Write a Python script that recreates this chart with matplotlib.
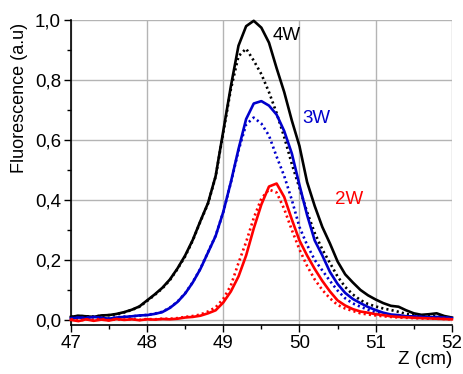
import numpy as np
import matplotlib
matplotlib.use("Agg")
import matplotlib.pyplot as plt
from matplotlib.ticker import MultipleLocator, FuncFormatter

plt.rcParams['font.family'] = ['Liberation Sans', 'DejaVu Sans']

# z positions (cm), 0.1 cm step from 47 to 52
z = [47.0, 47.1, 47.2, 47.3, 47.4, 47.5, 47.6, 47.7, 47.8, 47.9,
     48.0, 48.1, 48.2, 48.3, 48.4, 48.5, 48.6, 48.7, 48.8, 48.9,
     49.0, 49.1, 49.2, 49.3, 49.4, 49.5, 49.6, 49.7, 49.8, 49.9,
     50.0, 50.1, 50.2, 50.3, 50.4, 50.5, 50.6, 50.7, 50.8, 50.9,
     51.0, 51.1, 51.2, 51.3, 51.4, 51.5, 51.6, 51.7, 51.8, 51.9, 52.0]

w4_solid = [0.010, 0.014, 0.012, 0.010, 0.015, 0.016, 0.020, 0.026, 0.034, 0.045,
            0.065, 0.085, 0.107, 0.135, 0.172, 0.215, 0.267, 0.330, 0.390, 0.480,
            0.630, 0.780, 0.915, 0.980, 0.998, 0.975, 0.925, 0.840, 0.760, 0.665,
            0.580, 0.460, 0.380, 0.310, 0.255, 0.195, 0.152, 0.125, 0.100, 0.082,
            0.068, 0.056, 0.047, 0.044, 0.032, 0.022, 0.017, 0.019, 0.022, 0.013, 0.008]
w4_dot = [0.010, 0.013, 0.012, 0.011, 0.014, 0.016, 0.019, 0.025, 0.033, 0.044,
          0.063, 0.083, 0.105, 0.133, 0.170, 0.212, 0.265, 0.328, 0.388, 0.478,
          0.625, 0.770, 0.880, 0.905, 0.865, 0.820, 0.760, 0.690, 0.610, 0.520,
          0.440, 0.360, 0.290, 0.235, 0.190, 0.145, 0.110, 0.085, 0.066, 0.053,
          0.045, 0.038, 0.033, 0.027, 0.020, 0.016, 0.014, 0.012, 0.012, 0.010, 0.008]

w3_solid = [0.005, 0.008, 0.006, 0.010, 0.007, 0.004, 0.008, 0.010, 0.012, 0.015,
            0.016, 0.020, 0.026, 0.040, 0.060, 0.088, 0.125, 0.170, 0.225, 0.280,
            0.360, 0.460, 0.570, 0.670, 0.722, 0.730, 0.715, 0.685, 0.630, 0.555,
            0.450, 0.350, 0.265, 0.215, 0.160, 0.120, 0.090, 0.070, 0.056, 0.043,
            0.033, 0.024, 0.018, 0.016, 0.012, 0.012, 0.010, 0.009, 0.010, 0.008, 0.006]
w3_dot = [0.006, 0.007, 0.008, 0.009, 0.006, 0.005, 0.009, 0.011, 0.012, 0.014,
          0.017, 0.021, 0.027, 0.041, 0.061, 0.089, 0.126, 0.171, 0.226, 0.281,
          0.360, 0.458, 0.565, 0.652, 0.675, 0.655, 0.615, 0.545, 0.480, 0.400,
          0.310, 0.250, 0.200, 0.165, 0.130, 0.098, 0.072, 0.055, 0.044, 0.034,
          0.025, 0.020, 0.016, 0.013, 0.012, 0.011, 0.010, 0.009, 0.008, 0.008, 0.006]

w2_solid = [0.000, -0.004, 0.002, -0.003, 0.001, -0.002, 0.003, 0.000, 0.002, -0.001,
            0.002, 0.001, 0.003, 0.002, 0.004, 0.008, 0.010, 0.014, 0.022, 0.032,
            0.058, 0.095, 0.145, 0.215, 0.305, 0.385, 0.445, 0.455, 0.410, 0.335,
            0.265, 0.215, 0.170, 0.130, 0.095, 0.065, 0.048, 0.036, 0.028, 0.024,
            0.019, 0.016, 0.012, 0.010, 0.009, 0.007, 0.006, 0.005, 0.004, 0.003, 0.002]
w2_dot = [0.002, -0.002, 0.001, 0.000, 0.003, -0.001, 0.002, 0.001, 0.003, 0.000,
          0.003, 0.002, 0.004, 0.004, 0.006, 0.010, 0.013, 0.018, 0.028, 0.042,
          0.070, 0.115, 0.190, 0.260, 0.340, 0.405, 0.435, 0.425, 0.370, 0.300,
          0.235, 0.180, 0.135, 0.100, 0.072, 0.050, 0.038, 0.030, 0.022, 0.018,
          0.015, 0.012, 0.010, 0.008, 0.007, 0.006, 0.005, 0.004, 0.004, 0.003, 0.002]

labels = ['4W', '3W', '2W']
label_pos = [(49.65, 0.95), (50.04, 0.673), (50.46, 0.403)]
colors = ['black', '#0000cc', '#ff0000']

fig = plt.figure(figsize=(4.63, 3.74), dpi=100)
ax = fig.add_axes([0.153, 0.131, 0.823, 0.815])

series = [(w4_solid, w4_dot), (w3_solid, w3_dot), (w2_solid, w2_dot)]
for (s, d), c in zip(series, colors):
    ax.plot(z, s, color=c, lw=1.9, clip_on=False, zorder=3)
    ax.plot(z, d, color=c, lw=1.9, ls=(0, (0.8, 1.2)), clip_on=False, zorder=3)

for t, (x, y), c in zip(labels, label_pos, colors):
    ax.text(x, y, t, color=c, fontsize=13.5, va='center', ha='left')

ax.set_xlim(47, 52)
ax.set_ylim(-0.017, 1.0)
ax.xaxis.set_major_locator(MultipleLocator(1))
ax.xaxis.set_minor_locator(MultipleLocator(0.5))
ax.yaxis.set_major_locator(MultipleLocator(0.2))
ax.yaxis.set_minor_locator(MultipleLocator(0.1))
ax.yaxis.set_major_formatter(FuncFormatter(lambda v, p: f"{v:.1f}".replace('.', ',')))
ax.tick_params(which='major', direction='out', length=5, width=1, labelsize=13.5, pad=2)
ax.tick_params(which='minor', direction='out', length=3, width=1)
ax.grid(True, which='major', color='#b4b4b4', lw=1)
ax.set_axisbelow(True)
for side in ['top', 'right']:
    ax.spines[side].set_visible(False)
for side in ['left', 'bottom']:
    ax.spines[side].set_linewidth(1.2)

ax.set_ylabel('Fluorescence (a.u)', fontsize=13)
ax.yaxis.set_label_coords(-0.113, 0.745)
ax.set_xlabel('Z (cm)', fontsize=13.5, ha='right')
ax.xaxis.set_label_coords(1.0, -0.085)

plt.savefig('out.png', dpi=100)
